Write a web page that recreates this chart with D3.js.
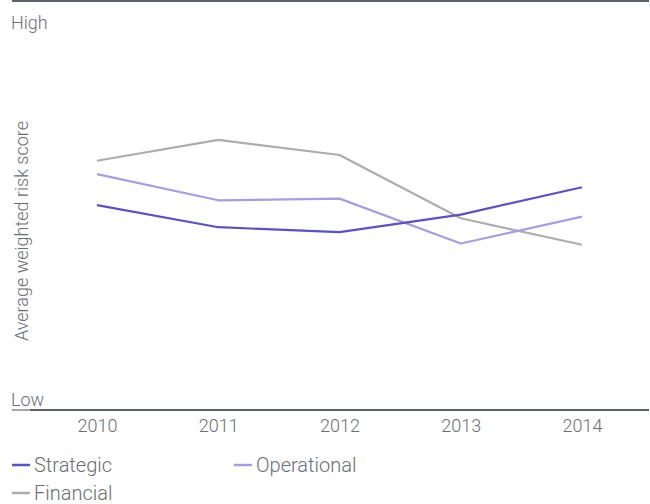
<!DOCTYPE html>
<html>
<head>
<meta charset="utf-8">
<script src="https://cdn.jsdelivr.net/npm/d3@7"></script>
<style>
  html, body { margin: 0; padding: 0; background: #fff; }
  svg text { font-family: Roboto, "Liberation Sans", sans-serif; font-weight: 300; fill: #6b6e72; }
</style>
</head>
<body>
<svg id="chart" width="650" height="504"></svg>
<script>
// Years on the x axis
const years = ["2010", "2011", "2012", "2013", "2014"];
// Average weighted risk score (0 = Low, 100 = High)
const strategic   = [50.2, 44.8, 43.6, 47.9, 54.6];
const operational = [57.8, 51.4, 51.8, 40.8, 47.4];
const financial   = [61.1, 66.2, 62.5, 47.0, 40.5];
const seriesNames = ["Strategic", "Operational", "Financial"];
const seriesColors = ["#5b50c8", "#a89de2", "#adadb1"];

const svg = d3.select("#chart");
const x = d3.scalePoint().domain(years).range([97, 582]);
const y = d3.scaleLinear().domain([0, 100]).range([410, 2]);

// Frame lines: top and baseline
svg.append("line").attr("x1", 12).attr("x2", 649).attr("y1", 1).attr("y2", 1)
  .attr("stroke", "#5c6268").attr("stroke-width", 2);
svg.append("line").attr("x1", 12).attr("x2", 30).attr("y1", y(0)).attr("y2", y(0))
  .attr("stroke", "#a3a5a8").attr("stroke-width", 2);
svg.append("line").attr("x1", 30).attr("x2", 649).attr("y1", y(0)).attr("y2", y(0))
  .attr("stroke", "#5c6268").attr("stroke-width", 2);

// High / Low labels
svg.append("text").attr("x", 11).attr("y", 29).attr("font-size", 18).text("High");
svg.append("text").attr("x", 11).attr("y", 406).attr("font-size", 18).text("Low");

// Y axis title
svg.append("text")
  .attr("transform", "translate(28,231) rotate(-90)")
  .attr("text-anchor", "middle").attr("font-size", 18)
  .text("Average weighted risk score");

// X axis tick labels
const xAxis = d3.axisBottom(x).tickSize(0).tickPadding(0);
const gx = svg.append("g").attr("transform", "translate(0,432)").call(xAxis);
gx.select(".domain").remove();
gx.selectAll("text").attr("font-size", 18).attr("dy", 0).attr("y", 0)
  .style("font-family", "Roboto, 'Liberation Sans', sans-serif").style("font-weight", 300)
  .attr("fill", "#6b6e72");

// Series lines
const data = [strategic, operational, financial];
const line = d3.line().x((d, i) => x(years[i])).y(d => y(d));
// Draw order: financial, operational, strategic on top
[2, 1, 0].forEach(k => {
  svg.append("path").datum(data[k])
    .attr("d", line).attr("fill", "none")
    .attr("stroke", seriesColors[k]).attr("stroke-width", 2.2)
    .attr("stroke-linejoin", "round");
});

// Legend
const legendPos = [[12, 465], [234, 465], [12, 493]];
seriesNames.forEach((name, k) => {
  const [lx, ly] = legendPos[k];
  svg.append("line").attr("x1", lx).attr("x2", lx + 18).attr("y1", ly).attr("y2", ly)
    .attr("stroke", seriesColors[k]).attr("stroke-width", 2.5);
  svg.append("text").attr("x", lx + 22).attr("y", ly + 7).attr("font-size", 20).text(name);
});
</script>
</body>
</html>
